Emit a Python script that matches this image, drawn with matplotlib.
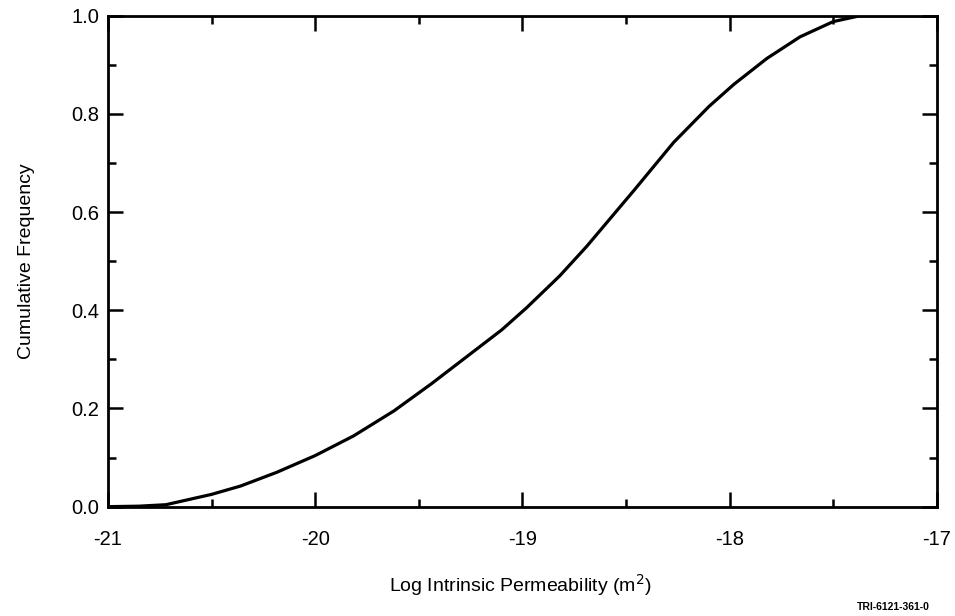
import matplotlib
matplotlib.use("Agg")
import matplotlib.pyplot as plt
from matplotlib.ticker import MultipleLocator

# curve (log10 permeability, cumulative frequency)
log_perm = [-21.0, -20.85, -20.72, -20.5, -20.36, -20.185, -20.0, -19.815,
            -19.62, -19.44, -19.27, -19.1, -18.98, -18.82, -18.69, -18.46,
            -18.27, -18.1, -17.98, -17.82, -17.66, -17.5, -17.37, -17.0]
cum_freq = [0.0, 0.001, 0.004, 0.025, 0.042, 0.07, 0.104, 0.144,
            0.195, 0.25, 0.305, 0.36, 0.405, 0.47, 0.53, 0.645,
            0.742, 0.815, 0.86, 0.913, 0.957, 0.988, 1.0, 1.0]

x_ticks = [-21, -20, -19, -18, -17]
y_ticks = [0.0, 0.2, 0.4, 0.6, 0.8, 1.0]

plt.rcParams["font.family"] = ["Liberation Sans", "DejaVu Sans"]

fig = plt.figure(figsize=(9.55, 6.16), dpi=100)
ax = fig.add_axes([0.113, 0.1775, 0.868, 0.797])

ax.plot(log_perm, cum_freq, color="black", lw=2.3,
        solid_joinstyle="round", solid_capstyle="round")

ax.set_xlim(-21, -17)
ax.set_ylim(0, 1)
ax.set_xticks(x_ticks)
ax.set_xticklabels([str(t) for t in x_ticks])
ax.set_yticks(y_ticks)
ax.set_yticklabels([f"{t:.1f}" for t in y_ticks])
ax.xaxis.set_minor_locator(MultipleLocator(0.5))
ax.yaxis.set_minor_locator(MultipleLocator(0.1))

for s in ax.spines.values():
    s.set_linewidth(2.0)

ax.tick_params(which="both", direction="in", top=True, right=True,
               width=1.8, labelsize=14.5)
ax.tick_params(which="major", length=11)
ax.tick_params(which="minor", length=6)
ax.tick_params(axis="x", which="major", pad=17)
ax.tick_params(axis="y", which="major", pad=6)

ax.set_xlabel("Log Intrinsic Permeability (m$^2$)", fontsize=14)
ax.xaxis.set_label_coords(0.497, -0.133)
ax.set_ylabel("Cumulative Frequency", fontsize=14)
ax.yaxis.set_label_coords(-0.088, 0.5)

fig.text(0.935, 0.006, "TRI-6121-361-0", fontsize=7.5, fontweight="bold",
         ha="center", va="bottom")

fig.savefig("out.png", dpi=100)
plt.close(fig)
